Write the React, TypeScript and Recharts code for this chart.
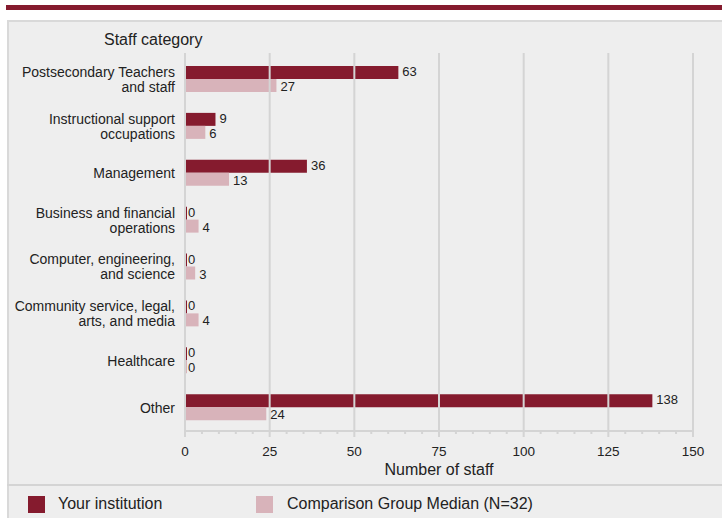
import React from 'react';
import { BarChart, Bar, XAxis, YAxis, ReferenceLine, LabelList } from 'recharts';

const categories = [
  'Postsecondary Teachers\nand staff',
  'Instructional support\noccupations',
  'Management',
  'Business and financial\noperations',
  'Computer, engineering,\nand science',
  'Community service, legal,\narts, and media',
  'Healthcare',
  'Other',
];
const yourInstitution = [63, 9, 36, 0, 0, 0, 0, 138];
const comparisonMedian = [27, 6, 13, 4, 3, 4, 0, 24];
const gridValues = [25, 50, 75, 100, 125, 150];
const axisTicks = [
  0, 5, 10, 15, 20, 25, 30, 35, 40, 45, 50, 55, 60, 65, 70, 75, 80, 85, 90, 95, 100,
  105, 110, 115, 120, 125, 130, 135, 140, 145, 150,
];

const DARK = '#851b2e';
const LIGHT = '#d8b3ba';
const GRID = '#d4d4d4';
const TEXT = '#222';

const data = categories.map((name, i) => ({
  name,
  yours: yourInstitution[i],
  median: comparisonMedian[i],
}));

const XTick = (props: any) => {
  const { x, y, payload } = props;
  const major = payload.value % 25 === 0;
  return (
    <g>
      <line x1={x} x2={x} y1={y} y2={y + (major ? 6 : 3)} stroke={GRID} strokeWidth={2} />
      {major && (
        <text x={x} y={y + 25} textAnchor="middle" fontSize={13.5} fill={TEXT}>
          {payload.value}
        </text>
      )}
    </g>
  );
};

const YTick = (props: any) => {
  const { x, y, payload } = props;
  const lines = String(payload.value).split('\n');
  const lh = 15;
  const start = y - ((lines.length - 1) * lh) / 2 + 5;
  return (
    <text x={x} y={start} textAnchor="end" fontSize={14} fill={TEXT}>
      {lines.map((l, i) => (
        <tspan key={i} x={x} y={start + i * lh}>
          {l}
        </tspan>
      ))}
    </text>
  );
};

// shift: nudges the two labels of a pair apart a little, like the original
const makeLabel = (shift: number) => (props: any) => {
  const { x, y, width, height, value } = props;
  return (
    <text
      x={x + width + (value === 0 ? 1 : 4)}
      y={y + height / 2 + 4.5 + shift}
      fontSize={13}
      fill={TEXT}
    >
      {value}
    </text>
  );
};
const DarkLabel = makeLabel(-1);
const LightLabel = makeLabel(1);

export default function App() {
  return (
    <div
      style={{
        position: 'absolute',
        left: 0,
        top: 0,
        width: 722,
        height: 518,
        overflow: 'hidden',
        background: '#fff',
        fontFamily: '"Liberation Sans", Arial, sans-serif',
      }}
    >
      <div style={{ position: 'absolute', left: 6, top: 5, width: 716, height: 5, background: DARK }} />
      <div
        style={{
          position: 'absolute',
          left: 7,
          top: 20,
          width: 730,
          height: 510,
          background: '#eeeeee',
          borderTop: '2px solid #d9d9d9',
          borderLeft: '2px solid #d9d9d9',
          boxSizing: 'border-box',
        }}
      />
      <div style={{ position: 'absolute', left: 7, top: 484, width: 720, height: 2, background: '#d4d4d4' }} />
      <div style={{ position: 'absolute', left: 104, top: 31, fontSize: 16, color: TEXT, lineHeight: '18px' }}>
        Staff category
      </div>
      <div style={{ position: 'absolute', left: 0, top: 0 }}>
        <BarChart
          width={722}
          height={485}
          data={data}
          layout="vertical"
          margin={{ top: 53, right: 29, left: 0, bottom: 0 }}
          barGap={0}
        >
          <XAxis
            type="number"
            domain={[0, 150]}
            ticks={axisTicks}
            interval={0}
            height={54}
            tickSize={0}
            tickMargin={0}
            tick={<XTick />}
            axisLine={{ stroke: GRID, strokeWidth: 2 }}
            label={{ value: 'Number of staff', position: 'insideBottom', offset: 10, fontSize: 16, fill: TEXT }}
          />
          <XAxis
            xAxisId="top"
            orientation="top"
            type="number"
            domain={[0, 150]}
            height={0}
            tick={false}
            tickLine={false}
            axisLine={{ stroke: GRID, strokeWidth: 2 }}
          />
          <YAxis
            type="category"
            dataKey="name"
            width={185}
            tickSize={0}
            tickMargin={10}
            tick={<YTick />}
            axisLine={{ stroke: GRID, strokeWidth: 2 }}
            tickLine={false}
            padding={{ top: 3, bottom: 0 }}
            interval={0}
          />
          {gridValues.map((v) => (
            <ReferenceLine key={v} x={v} stroke={GRID} strokeWidth={2} />
          ))}
          <Bar dataKey="yours" fill={DARK} barSize={13} minPointSize={2} isAnimationActive={false}>
            <LabelList dataKey="yours" content={DarkLabel} />
          </Bar>
          <Bar dataKey="median" fill={LIGHT} barSize={13} minPointSize={2} isAnimationActive={false}>
            <LabelList dataKey="median" content={LightLabel} />
          </Bar>
        </BarChart>
      </div>
      <div style={{ position: 'absolute', left: 28, top: 496, width: 17, height: 17, background: DARK }} />
      <div style={{ position: 'absolute', left: 58, top: 495, fontSize: 16, color: TEXT, lineHeight: '18px' }}>
        Your institution
      </div>
      <div style={{ position: 'absolute', left: 256, top: 496, width: 17, height: 17, background: LIGHT }} />
      <div style={{ position: 'absolute', left: 287, top: 495, fontSize: 16, color: TEXT, lineHeight: '18px' }}>
        Comparison Group Median (N=32)
      </div>
    </div>
  );
}
